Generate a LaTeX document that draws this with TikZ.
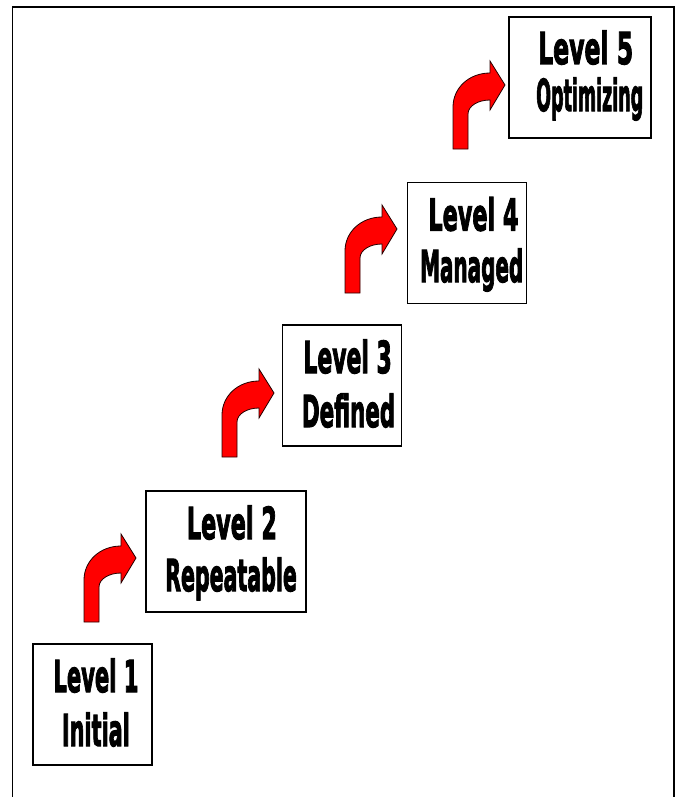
\documentclass[tikz,border=0pt]{standalone}
\usepackage{fontspec}
\usepackage{graphicx}
\newfontfamily\lvlfont{DejaVu Sans Bold}[FakeBold=3]
\newcommand{\sqz}[2]{\resizebox{#1pt}{\height}{#2}}
\begin{document}
\begin{tikzpicture}[x=1pt,y=-1pt,
  lvlbox/.style={draw=black, line width=1.1pt, fill=white, inner sep=0pt},
  lvltext/.style={anchor=base west, inner sep=0pt, font=\lvlfont\fontsize{44}{52}\selectfont},
  bentarrow/.pic={
    \draw[draw=black!85!red, line width=0.8pt, fill=red, line join=miter]
      (0,0) -- (0,-42) .. controls (0,-61) and (16,-76) .. (37,-76)
      -- (37,-88) -- (52,-64) -- (37,-39) -- (37,-49)
      .. controls (25,-49) and (15,-43) .. (15,-35) -- (15,0) -- cycle;
  }]
\useasboundingbox (0,0) rectangle (678,797);
\clip (0,0) rectangle (678,797);
\fill[white] (0,0) rectangle (678,797);
\draw[line width=1.8pt] (12.5,6.8) rectangle (674,830);

% boxes
\node[lvlbox, minimum width=119pt, minimum height=121pt] (b1) at (92.5,704.5) {};
\node[lvlbox, minimum width=160pt, minimum height=121pt] (b2) at (226,551.5) {};
\node[lvlbox, minimum width=119.4pt, minimum height=121pt] (b3) at (342,385.5) {};
\node[lvlbox, minimum width=119.4pt, minimum height=121pt] (b4) at (467,242.8) {};
\node[lvlbox, minimum width=142pt, minimum height=121pt] (b5) at (580,77.5) {};

% texts
\node[lvltext] (t1a) at (53.3,692) {\sqz{85}{Level 1}};
\node[lvltext] (t1b) at (61.7,746) {\sqz{68}{Initial}};
\node[lvltext] (t2a) at (186.7,539) {\sqz{90}{Level 2}};
\node[lvltext] (t2b) at (165,591) {\sqz{131.7}{Repeatable}};
\node[lvltext] (t3a) at (303.3,373) {\sqz{88.3}{Level 3}};
\node[lvltext] (t3b) at (301.7,427) {\sqz{93.3}{Defined}};
\node[lvltext] (t4a) at (428.3,230.5) {\sqz{90}{Level 4}};
\node[lvltext] (t4b) at (420,282) {\sqz{103}{Managed}};
\node[lvltext] (t5a) at (538,64) {\sqz{95}{Level 5}};
\node[lvltext] (t5b) at (536,111) {\sqz{107}{Optimizing}};

% arrows
\pic at (84,622) {bentarrow};
\pic at (222,457) {bentarrow};
\pic at (345,293) {bentarrow};
\pic at (453,149) {bentarrow};
\end{tikzpicture}
\end{document}
